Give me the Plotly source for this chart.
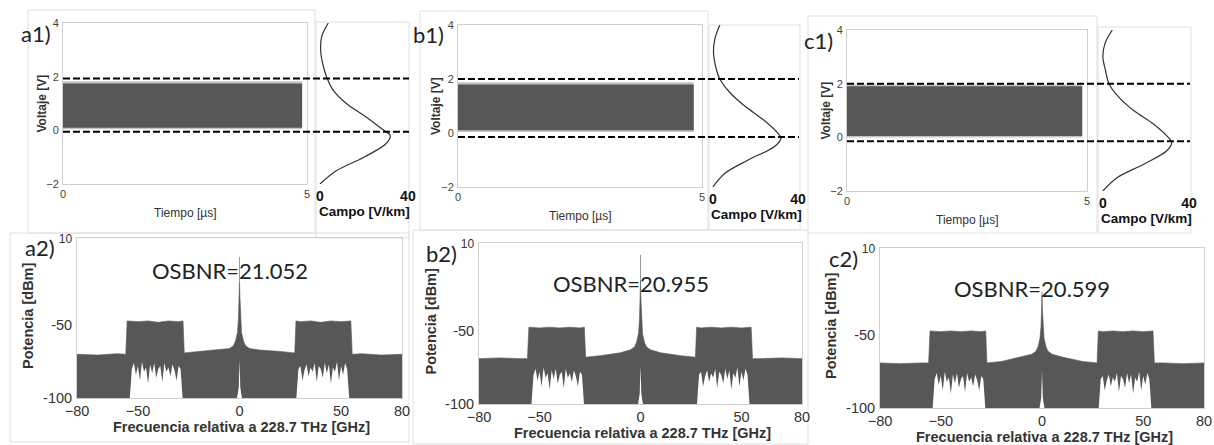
import plotly.graph_objects as go

W, H = 1214, 445

# ---------------- data ----------------
panels = ["a", "b", "c"]
osbnr_text = ["OSBNR=21.052", "OSBNR=20.955", "OSBNR=20.599"]

# time-domain band (Voltaje [V] vs Tiempo [us])
band_t_end = [4.9, 4.83, 4.9]
band_top = [1.75, 1.8, 1.9]
band_bot = [0.1, 0.1, 0.05]
thr_hi = [1.93, 2.0, 2.0]
thr_lo = [-0.05, -0.15, -0.15]

# side distributions (Campo [V/km] vs Voltaje)
campo_v = [4, 3.5, 3, 2.5, 2, 1.5, 1, 0.5, 0, -0.2, -0.5, -1, -1.5, -2]
campo_a = [3.8, 0.8, 0.3, 1.2, 3.0, 6.0, 12.0, 21.0, 29.0, 32.0, 30.0, 20.0, 7.6, 0.0]
campo_b = [3.3, 1.0, 0.3, 1.2, 3.3, 8.0, 15.0, 23.6, 30.5, 32.0, 29.0, 16.6, 5.6, 0.0]
campo_c = [4.4, 1.0, 0.0, 1.2, 2.8, 7.4, 14.3, 23.5, 30.4, 32.0, 29.7, 19.0, 6.7, 0.0]
campo = [campo_a, campo_b, campo_c]

# spectra (Potencia [dBm] vs frequency offset [GHz]) : upper envelope
spec_f = [-80, -70, -60, -56, -55.3, -50, -45, -40, -35, -30, -27.8, -27.2, -20, -10,
          -5, -3, -2, -1, -0.5, -0.2, 0, 0.2, 0.5, 1, 2, 3, 5, 10, 20, 27.2, 27.8,
          30, 35, 40, 45, 50, 54.8, 55.5, 60, 70, 80]
spec_a = [-70, -70.5, -69.5, -70, -47, -47.5, -47, -48, -47, -47.5, -47, -69, -68, -67,
          -66, -64, -61, -55, -45, -30, -20, -30, -45, -55, -61, -64, -66, -67, -68, -69, -47,
          -47.5, -47, -48, -47, -47.5, -47, -70, -69.5, -70.5, -70]
spec_b = [-69, -68.5, -69, -69, -47.5, -48, -47.5, -48, -47.5, -48, -47.5, -68, -67, -65,
          -63, -61, -58, -52, -42, -28, -15, -28, -42, -52, -58, -61, -63, -65, -67, -68, -47.5,
          -48, -47.5, -48, -47.5, -48, -47.5, -69, -69, -68.5, -69]
spec_c = [-69, -69.5, -69, -69, -47, -47.5, -47, -47.5, -47, -47.5, -47, -69, -68, -65,
          -63, -61, -58, -52, -44, -32, -22, -32, -44, -52, -58, -61, -63, -65, -68, -69, -47,
          -47.5, -47, -47.5, -47, -47.5, -47, -69, -69, -69.5, -69]
spec = [spec_a, spec_b, spec_c]
peak_top = [-3, 2, -20]

# white "grass" inside the sidebands (bottom part)
grass_f = [-54, -53, -52, -51, -50, -49, -48, -47, -46, -45, -44, -43, -42, -41, -40,
           -39, -38, -37, -36, -35, -34, -33, -32, -31, -30, -29, -28]
grass_top = [-100, -80, -76, -84, -78, -88, -75, -82, -79, -90, -77, -83, -76, -86, -80,
             -78, -89, -76, -82, -79, -85, -77, -81, -88, -78, -80, -100]
notch_f = [-1.2, -0.4, 0, 0.4, 1.2]
notch_v = [-100, -93, -74, -93, -100]

# ---------------- layout geometry (pixels) ----------------
main_px = [(63, 307, 23, 184), (458, 702, 25, 187), (847, 1087, 30, 191)]
side_px = [(316, 409), (709, 799), (1099, 1190)]
spec_px = [(77, 402, 238, 398), (479, 802, 243, 404), (880, 1204, 248, 408)]
osbnr_dy = [32, 40, 40]
lab1_gap = [10, 12, 12]

def xd(a, b):
    return [a / W, b / W]

def yd(top, bot):
    return [1 - bot / H, 1 - top / H]

def px(x):
    return x / W

def py(y):
    return 1 - y / H

fig = go.Figure()
layout = dict(template="none", width=W, height=H, autosize=False,
              margin=dict(l=0, r=0, t=0, b=0, pad=0),
              paper_bgcolor="white", plot_bgcolor="white", showlegend=False)

DARK = "#575757"
FRAME = "#cfcfcf"
narrow = "Liberation Sans Narrow, Arial Narrow, Liberation Sans, Arial"
sans = "Liberation Sans, Arial"
calib = "Lato, Open Sans, sans-serif"

shapes = []
annotations = []


def label(text, xpix, ypix, family, size, color="#222", angle=0, xanchor="center"):
    annotations.append(dict(text=text, x=px(xpix), y=py(ypix), xref="paper", yref="paper",
                            showarrow=False, xanchor=xanchor, yanchor="middle",
                            textangle=angle, font=dict(family=family, size=size, color=color)))


for i in range(3):
    mx0, mx1, my0, my1 = main_px[i]
    sx0, sx1 = side_px[i]
    fx0, fx1, fy0, fy1 = spec_px[i]
    nm, ns, nf = i + 1, i + 4, i + 7
    xm, ym = f"x{nm}", f"y{nm}"
    xs, ys = f"x{ns}", f"y{ns}"
    xf, yf = f"x{nf}", f"y{nf}"

    # ----- time-domain band -----
    fig.add_trace(go.Scatter(
        x=[0, band_t_end[i], band_t_end[i], 0, 0],
        y=[band_bot[i] - 0.06, band_bot[i] - 0.06, band_top[i] + 0.08, band_top[i] + 0.08, band_bot[i] - 0.06],
        fill="toself", fillcolor="#c4c4c4", line=dict(width=0), mode="lines",
        xaxis=xm, yaxis=ym, hoverinfo="skip"))
    fig.add_trace(go.Scatter(
        x=[0, band_t_end[i], band_t_end[i], 0, 0],
        y=[band_bot[i], band_bot[i], band_top[i], band_top[i], band_bot[i]],
        fill="toself", fillcolor=DARK, line=dict(width=0), mode="lines",
        xaxis=xm, yaxis=ym, hoverinfo="skip"))

    # ----- side distribution -----
    fig.add_trace(go.Scatter(
        x=campo[i], y=campo_v, mode="lines",
        line=dict(color="#333333", width=1.2, shape="spline"),
        xaxis=xs, yaxis=ys, hoverinfo="skip"))

    # ----- spectrum -----
    fig.add_trace(go.Scatter(
        x=spec_f + [80, -80], y=spec[i] + [-100, -100],
        fill="toself", fillcolor=DARK, line=dict(width=0.6, color=DARK), mode="lines",
        xaxis=xf, yaxis=yf, hoverinfo="skip"))
    fig.add_trace(go.Scatter(
        x=[0, 0], y=[spec[i][20], peak_top[i]], mode="lines",
        line=dict(color="#9a9a9a", width=1),
        xaxis=xf, yaxis=yf, hoverinfo="skip"))
    for sgn in (1, -1):
        gx = [sgn * f for f in grass_f]
        fig.add_trace(go.Scatter(
            x=gx, y=grass_top, fill="toself", fillcolor="white",
            line=dict(width=0), mode="lines",
            xaxis=xf, yaxis=yf, hoverinfo="skip"))
    fig.add_trace(go.Scatter(
        x=notch_f, y=notch_v, fill="toself", fillcolor="white",
        line=dict(width=0), mode="lines",
        xaxis=xf, yaxis=yf, hoverinfo="skip"))

    # ----- axes -----
    sfx = "" if nm == 1 else str(nm)
    common = dict(automargin=False, showgrid=False, zeroline=False, ticks="", fixedrange=True)
    layout["xaxis" + sfx] = dict(
        common, domain=xd(mx0, mx1), range=[0, 5], anchor=ym, tickvals=[0, 5],
        showline=True, mirror=True, linecolor=FRAME, linewidth=1,
        tickfont=dict(family=narrow, size=11, color="#444"), ticklabelstandoff=0)
    layout["yaxis" + sfx] = dict(
        common, domain=yd(my0, my1), range=[-2, 4], anchor=xm, tickvals=[-2, 0, 2, 4],
        showline=True, mirror=True, linecolor=FRAME, linewidth=1,
        tickfont=dict(family=narrow, size=11, color="#444"), ticklabelstandoff=1)
    layout[f"xaxis{ns}"] = dict(
        common, domain=xd(sx0, sx1), range=[-1.8, 40.5], anchor=ys,
        tickvals=[0, 40], ticktext=["<b>0</b>", "<b>40</b>"], showline=False,
        tickfont=dict(family=sans, size=14, color="#111"), ticklabelstandoff=2)
    layout[f"yaxis{ns}"] = dict(
        common, domain=yd(my0, my1), range=[-2, 4], anchor=xs,
        showticklabels=False, showline=False)
    layout[f"xaxis{nf}"] = dict(
        common, domain=xd(fx0, fx1), range=[-80, 80], anchor=yf,
        tickvals=[-80, -50, 0, 50, 80],
        showline=True, mirror=True, linecolor=FRAME, linewidth=1,
        tickfont=dict(family=sans, size=14.5, color="#333"), ticklabelstandoff=0)
    layout[f"yaxis{nf}"] = dict(
        common, domain=yd(fy0, fy1), range=[-100, 10], anchor=xf,
        tickvals=[-100, -50, 10],
        ticktext=["-100", "-50", "<span style='font-size:12px'>10</span>"],
        showline=True, mirror=True, linecolor=FRAME, linewidth=1,
        tickfont=dict(family=sans, size=14.5, color="#333"), ticklabelstandoff=1)

    # ----- dashed threshold lines spanning main + side panels -----
    for v in (thr_hi[i], thr_lo[i]):
        shapes.append(dict(type="line", xref="paper", yref=ym,
                           x0=px(mx0), x1=px(sx1), y0=v, y1=v,
                           line=dict(color="black", width=2, dash="7px,3px")))

    # ----- titles / labels -----
    label("Tiempo [µs]", (mx0 + mx1) / 2, my1 + 29, narrow, 12, "#333")
    label("<b>Voltaje [V]</b>", mx0 - 22, (my0 + my1) / 2, sans, 12, "#333", angle=-90)
    label("<b>Campo [V/km]</b>", (sx0 + sx1) / 2 + 2, my1 + 27, sans, 13.5, "#111")
    label(f"{panels[i]}1)", mx0 - lab1_gap[i], my0 + 10, calib, 22, "#222", xanchor="right")
    label(f"{panels[i]}2)", fx0 - 20, fy0 + 10, calib, 22, "#222", xanchor="right")
    label(osbnr_text[i], fx0 + (fx1 - fx0) * 0.47, fy0 + osbnr_dy[i], calib, 22, "#222")
    label("<b>Frecuencia relativa a 228.7 THz [GHz]</b>", (fx0 + fx1) / 2 + 2, fy1 + 29,
          sans, 14.5, "#333")
    label("<b>Potencia [dBm]</b>", fx0 - 49, (fy0 + fy1) / 2 - 2, sans, 14.5, "#333", angle=-90)

# light panel frames of the composite
frames = [(28, 10, 315, 233), (316, 22, 409, 238), (10, 233, 409, 442),
          (420, 11, 708, 230), (709, 25, 800, 230), (413, 230, 808, 444),
          (808, 16, 1097, 233), (1098, 27, 1191, 233)]
for (a, b, c, d) in frames:
    shapes.append(dict(type="rect", xref="paper", yref="paper",
                       x0=px(a), x1=px(c), y0=py(d), y1=py(b),
                       line=dict(color="#e0e0e0", width=1), layer="below"))

layout["shapes"] = shapes
layout["annotations"] = annotations
fig.update_layout(**layout)
fig.write_html("out.html", config={"displayModeBar": False},
               post_script="document.body.style.margin='0';document.body.style.overflow='hidden';")
